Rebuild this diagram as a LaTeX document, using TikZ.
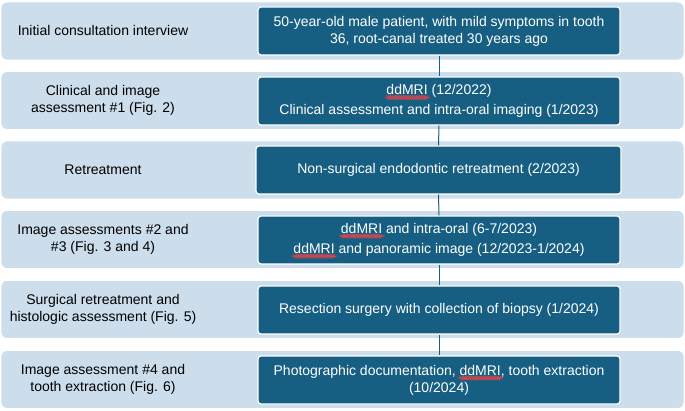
\documentclass[tikz,border=0pt]{standalone}
\usepackage{fontspec}
\setmainfont{Liberation Sans}
\usetikzlibrary{decorations.pathmorphing}
\definecolor{bandfill}{HTML}{CCDDEC}
\definecolor{stepfill}{HTML}{175F82}
\definecolor{waveRed}{HTML}{D8454B}
% red wavy underline used for flagged words
\newsavebox\wavebox
\newcommand\spellwave[1]{%
  \sbox\wavebox{#1}%
  \rlap{\tikz[x=1pt,y=1pt,baseline=0pt]\draw[waveRed,line width=0.35pt,decorate,
      decoration={snake,amplitude=0.45pt,segment length=2.2pt}]
      (0,-2.9) -- (\the\wd\wavebox,-2.9);}%
  \usebox\wavebox}
\tikzset{
  band/.style={fill=bandfill, draw=white, line width=0.8pt, rounded corners=6pt,
    minimum width=683pt, minimum height=58pt, inner sep=0pt},
  lefttext/.style={align=center, text=black, font=\fontsize{14}{16.5}\selectfont, inner sep=0pt},
  stepbox/.style={fill=stepfill, draw=white, line width=1.2pt, rounded corners=3pt,
    minimum width=362pt, minimum height=48pt, text=white, align=center,
    font=\fontsize{14}{17}\selectfont, inner sep=2pt},
  link/.style={draw=stepfill, line width=1pt}
}
\begin{document}
\begin{tikzpicture}[x=1pt,y=-1pt]
\useasboundingbox (0,0) rectangle (685,411);
% background bands
\node[band] (b1) at (342.5,31) {};
\node[band] (b2) at (342.5,100.5) {};
\node[band] (b3) at (342.5,170) {};
\node[band] (b4) at (342.5,239.5) {};
\node[band] (b5) at (342.5,309.5) {};
\node[band] (b6) at (342.5,379.5) {};
% phase names
\node[lefttext] (l1) at (103,31) {Initial consultation interview};
\node[lefttext] (l2) at (103,100.5) {Clinical and image\\assessment \#1 (Fig. 2)};
\node[lefttext] (l3) at (103,170) {Retreatment};
\node[lefttext] (l4) at (103,239.5) {Image assessments \#2 and\\\#3 (Fig. 3 and 4)};
\node[lefttext] (l5) at (103,309.5) {Surgical retreatment and\\histologic assessment (Fig. 5)};
\node[lefttext] (l6) at (103,379.5) {Image assessment \#4 and\\tooth extraction (Fig. 6)};
% events
\node[stepbox] (s1) at (439,31) {50-year-old male patient, with mild symptoms in tooth\\36, root-canal treated 30 years ago};
\node[stepbox] (s2) at (439,101) {\spellwave{ddMRI} (12/2022)\\[3pt]Clinical assessment and intra-oral imaging (1/2023)};
\node[stepbox, minimum width=365pt] (s3) at (438.5,170) {Non-surgical endodontic retreatment (2/2023)};
\node[stepbox] (s4) at (439,240) {\spellwave{ddMRI} and intra-oral (6-7/2023)\\[3pt]\spellwave{ddMRI} and panoramic image (12/2023-1/2024)};
\node[stepbox] (s5) at (439,310) {Resection surgery with collection of biopsy (1/2024)};
\node[stepbox] (s6) at (439,380) {Photographic documentation, \spellwave{ddMRI}, tooth extraction\\(10/2024)};
% timeline links
\draw[link] (s1.south) -- (s2.north);
\draw[link] (s2.south) -- (s3.north);
\draw[link] (s3.south) -- (s4.north);
\draw[link] (s4.south) -- (s5.north);
\draw[link] (s5.south) -- (s6.north);
\end{tikzpicture}
\end{document}
